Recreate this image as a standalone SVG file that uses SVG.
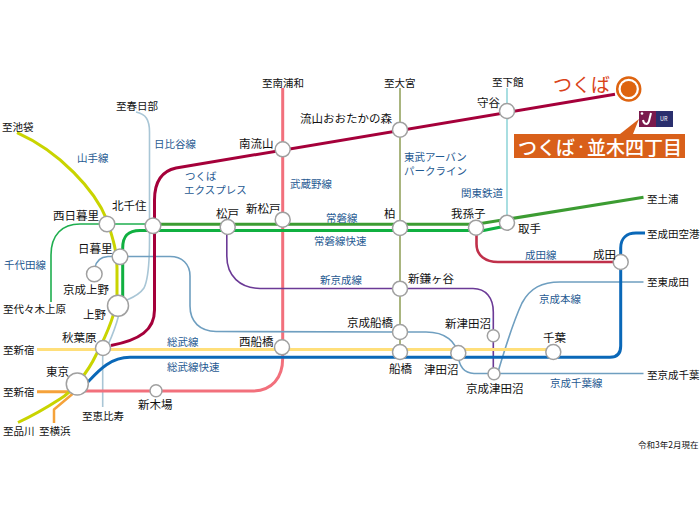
<svg xmlns="http://www.w3.org/2000/svg" width="700" height="525" viewBox="0 0 700 525">
<style>
text{font-family:"Noto Sans CJK JP","Noto Sans CJK SC",sans-serif;dominant-baseline:central}
.s{font-size:11.5px;fill:#111}
.d{font-size:10.5px;fill:#111}
.l{font-size:10.5px;fill:#1f5a92}
.st{fill:#fff;stroke:#a0a0a0;stroke-width:1.5}
path{fill:none;stroke-linecap:butt;stroke-linejoin:round}
.yama{stroke:#c9d400;stroke-width:3}
.chiyoda{stroke:#1fae4f;stroke-width:1.6}
.jrapid{stroke:#10b040;stroke-width:3}
.joban{stroke:#3c9c32;stroke-width:3}
.hibiya{stroke:#a9c6d6;stroke-width:1.6}
.tx{stroke:#a5003a;stroke-width:3}
.musashino{stroke:#f2707c;stroke-width:3}
.tobu{stroke:#8d9c55;stroke-width:1.5}
.shinkeisei{stroke:#6b3a96;stroke-width:1.6}
.keisei{stroke:#6f9fc0;stroke-width:1.6}
.sobu{stroke:#ffdf7a;stroke-width:3}
.srapid{stroke:#0a68b8;stroke-width:3}
.orange{stroke:#f5a23a;stroke-width:3}
.kanto{stroke:#93d6da;stroke-width:1.6}
.narita{stroke:#c0304a;stroke-width:2.6}
</style>
<rect width="700" height="525" fill="#fff"/>
<g id="connectors">
<path class="tobu" d="M400 88V352"/>
<path class="kanto" d="M507 88V216"/>
<path class="hibiya" d="M136 112C146 114 149.500 120 149.500 132V240C149.500 262 148 280 144 288C140 294 134 297 127 300"/>
<path class="hibiya" d="M118.500 316C116 326 112 336 108 345M102.700 352V407"/>
<path class="musashino" d="M282.700 88V358C282.700 378 272 391 252 391H84"/>
<path class="chiyoda" d="M51 302V255C51 235 62 224 80 224H153"/>
<path class="keisei" d="M95 268C96 261 101 257 108 256.500H170C182 256.500 190 264 190 276V306C190 322 200 331 216 331.500L394 332H426C446 332 456 342 458.300 355C459 367 464 373 474 373.500H643.500"/>
<path class="keisei" d="M498 372C506 345 514 320 522 303C530 288 542 282 560 282H643.500"/>
<path class="shinkeisei" d="M226.800 232V256C226.800 276 240 288 260 288.500H473C486 288.500 493.300 298 493.300 312V370"/>
<path class="sobu" d="M37 349.500H553"/>
<path class="srapid" d="M84 386C96 374 108 357.300 130 357.300H610C617 357.300 620.700 354 620.700 346V248C620.700 238 627 233 636 233H645"/>
<path class="orange" d="M37 391.700H78"/>
<path class="orange" d="M76 391L54 409.500V423" style="stroke-width:2.500"/>
<path class="yama" d="M17 132.700C60 152 95 190 107 220C112 236 117 250 117 268V296C116 314 106 336 96 355C88 372 72 392 60 399C46 408 32 416 18 422.500"/>
<path class="joban" d="M153 224.300H476L643.500 197.300"/>
<path class="jrapid" d="M122.700 300V248C122.700 236 128 230.500 140 230.500H470L476 232L506 226"/>
<path class="tx" d="M615 94.300L176 168C162 171 154.500 182 154.500 200V310C154.500 330 140 340 111 345.500"/>
<path class="narita" d="M476.500 232V244C476.500 256 486 262 498 262H618"/>
</g>
<g id="n-kitasenju"><circle class="st" cx="153" cy="225.700" r="7.800"/><text class="s" x="112" y="205">北千住</text></g>
<g id="n-nishinippori"><circle class="st" cx="107" cy="224" r="7.800"/><text class="s" x="53" y="215">西日暮里</text></g>
<g id="n-nippori"><circle class="st" cx="120" cy="256.700" r="7.800"/><text class="s" x="78" y="248">日暮里</text></g>
<g id="n-keiseiueno"><circle class="st" cx="94.300" cy="274" r="7.800"/><text class="s" x="63" y="289">京成上野</text></g>
<g id="n-ueno"><circle class="st" cx="118" cy="305.700" r="10.500"/><text class="s" x="83" y="314">上野</text></g>
<g id="n-akihabara"><circle class="st" cx="103" cy="348" r="7.500"/><text class="s" x="62" y="337">秋葉原</text></g>
<g id="n-tokyo"><circle class="st" cx="77.300" cy="384" r="11"/><text class="s" x="46" y="371">東京</text></g>
<g id="n-shinkiba"><circle class="st" cx="156" cy="390.700" r="6"/><text class="s" x="138" y="404">新木場</text></g>
<g id="n-matsudo"><circle class="st" cx="227.700" cy="227" r="7.500"/><text class="s" x="216" y="213">松戸</text></g>
<g id="n-shinmatsudo"><circle class="st" cx="282.700" cy="219.700" r="7.500"/><text class="s" x="246" y="208">新松戸</text></g>
<g id="n-kashiwa"><circle class="st" cx="400" cy="228" r="7.500"/><text class="s" x="384" y="213">柏</text></g>
<g id="n-minaminagareyama"><circle class="st" cx="282.700" cy="149.300" r="7.500"/><text class="s" x="239" y="143">南流山</text></g>
<g id="n-otakanomori"><circle class="st" cx="400" cy="129.700" r="7.500"/><text class="s" x="300" y="118">流山おおたかの森</text></g>
<g id="n-moriya"><circle class="st" cx="507" cy="111" r="7.500"/><text class="s" x="477" y="102">守谷</text></g>
<g id="n-abiko"><circle class="st" cx="476" cy="227.700" r="7.500"/><text class="s" x="451" y="213">我孫子</text></g>
<g id="n-toride"><circle class="st" cx="507" cy="222.700" r="7.500"/><text class="s" x="518" y="228">取手</text></g>
<g id="n-narita"><circle class="st" cx="620.700" cy="262" r="7.500"/><text class="s" x="593" y="254">成田</text></g>
<g id="n-shinkamagaya"><circle class="st" cx="400" cy="288.700" r="7.500"/><text class="s" x="408" y="278">新鎌ヶ谷</text></g>
<g id="n-keiseifunabashi"><circle class="st" cx="400" cy="332" r="7.500"/><text class="s" x="347" y="322">京成船橋</text></g>
<g id="n-funabashi"><circle class="st" cx="400" cy="352" r="7.500"/><text class="s" x="389" y="368">船橋</text></g>
<g id="n-nishifunabashi"><circle class="st" cx="282" cy="347.300" r="7.500"/><text class="s" x="239" y="341">西船橋</text></g>
<g id="n-tsudanuma"><circle class="st" cx="458.300" cy="353" r="7.500"/><text class="s" x="424" y="369">津田沼</text></g>
<g id="n-shintsudanuma"><circle class="st" cx="493.300" cy="335.700" r="6"/><text class="s" x="445" y="323">新津田沼</text></g>
<g id="n-keiseitsudanuma"><circle class="st" cx="494" cy="373.700" r="6"/><text class="s" x="466" y="388">京成津田沼</text></g>
<g id="n-chiba"><circle class="st" cx="553.300" cy="352" r="7.500"/><text class="s" x="543" y="337">千葉</text></g>
<g id="n-tsukuba"><circle cx="628.700" cy="89" r="11.500" fill="#fff" stroke="#de6410" stroke-width="2.500"/><circle cx="628.700" cy="89" r="8" fill="#de6410"/><text x="553" y="83" style="font-size:19px;fill:#d9431a">つくば</text></g>
<g id="labels">
<text class="d" x="2" y="126">至池袋</text>
<text class="d" x="116" y="105">至春日部</text>
<text class="d" x="262" y="82">至南浦和</text>
<text class="d" x="384" y="82">至大宮</text>
<text class="d" x="492" y="81">至下館</text>
<text class="d" x="647" y="198">至土浦</text>
<text class="d" x="647" y="233">至成田空港</text>
<text class="d" x="647" y="281">至東成田</text>
<text class="d" x="647" y="374">至京成千葉</text>
<text class="d" x="3" y="308">至代々木上原</text>
<text class="d" x="3" y="349">至新宿</text>
<text class="d" x="3" y="391">至新宿</text>
<text class="d" x="3" y="430">至品川</text>
<text class="d" x="39" y="430">至横浜</text>
<text class="d" x="82" y="415">至恵比寿</text>
<text class="l" x="77" y="157">山手線</text>
<text class="l" x="154" y="143">日比谷線</text>
<text class="l" y="175"><tspan x="185">つくば</tspan><tspan x="184" dy="13.500">エクスプレス</tspan></text>
<text class="l" x="4" y="264">千代田線</text>
<text class="l" x="167" y="341">総武線</text>
<text class="l" x="167" y="366">総武線快速</text>
<text class="l" y="156"><tspan x="404">東武アーバン</tspan><tspan x="404" dy="14">パークライン</tspan></text>
<text class="l" x="290" y="183">武蔵野線</text>
<text class="l" x="326" y="217">常磐線</text>
<text class="l" x="314" y="240">常磐線快速</text>
<text class="l" x="320" y="279">新京成線</text>
<text class="l" x="461" y="192">関東鉄道</text>
<text class="l" x="525" y="254">成田線</text>
<text class="l" x="539" y="298">京成本線</text>
<text class="l" x="550" y="382">京成千葉線</text>
<text x="638" y="444" style="font-size:8.500px;fill:#111">令和3年2月現在</text>
</g>
<g id="callout">
<polygon points="620,134 639,119 633,134" fill="#d9601a"/>
<rect x="514" y="134" width="171" height="24" fill="#d9601a"/>
<text y="146" style="font-size:19px;font-weight:500;fill:#fff"><tspan x="518">つくば</tspan><tspan x="575.500" style="font-size:11px">・</tspan><tspan x="587">並木四丁目</tspan></text>
</g>
<g id="logo">
<rect x="639" y="111" width="34" height="16" fill="#2a2f6e"/>
<rect x="639" y="111" width="17" height="16" fill="#7a1a4c"/>
<path d="M651 113L649 121C648 125 644 125 643 120" stroke="#fff" stroke-width="2"/>
<circle cx="642" cy="113.500" r="1.300" fill="#fff"/>
<text x="660" y="119" style="font-size:5.500px;fill:#fff">UR</text>
</g>
</svg>
